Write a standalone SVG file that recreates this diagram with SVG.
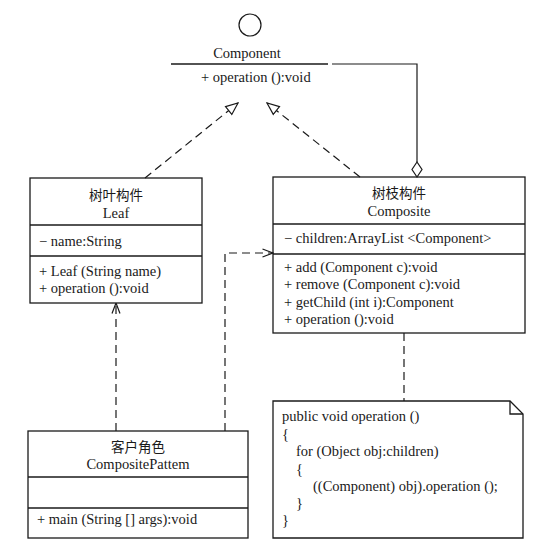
<svg xmlns="http://www.w3.org/2000/svg" width="541" height="550" viewBox="0 0 541 550">
  <style>
    text { font-family: "Liberation Serif", "Noto Sans CJK SC", serif; font-size: 14.5px; fill: #1a1a1a; }
    .cn { font-family: "Noto Sans CJK SC", "Liberation Serif", sans-serif; font-size: 13.5px; }
    .mid { text-anchor: middle; }
    .box { fill: #ffffff; stroke: #1a1a1a; stroke-width: 1.3; }
    .sep { stroke: #1a1a1a; stroke-width: 1.3; fill: none; }
    .solid { stroke: #1a1a1a; stroke-width: 1.2; fill: none; }
    .dash { stroke: #1a1a1a; stroke-width: 1.2; fill: none; stroke-dasharray: 8 5; }
  </style>
  <defs>
    <marker id="realize" viewBox="0 0 14 12" refX="13" refY="6" markerWidth="14" markerHeight="12" markerUnits="userSpaceOnUse" orient="auto">
      <path d="M1,1 L13,6 L1,11 Z" fill="#ffffff" stroke="#1a1a1a" stroke-width="1.2"/>
    </marker>
    <marker id="open" viewBox="0 0 12 10" refX="11.5" refY="5" markerWidth="12" markerHeight="10" markerUnits="userSpaceOnUse" orient="auto">
      <path d="M1,1 L11.5,5 L1,9" fill="none" stroke="#1a1a1a" stroke-width="1.2"/>
    </marker>
  </defs>

  <rect width="541" height="550" fill="#ffffff"/>

  <!-- Component interface (lollipop notation) -->
  <g id="component">
    <circle cx="250" cy="25" r="11" fill="#ffffff" stroke="#1a1a1a" stroke-width="1.2"/>
    <text x="247" y="58" class="mid">Component</text>
    <line x1="171" y1="64" x2="328" y2="64" class="sep"/>
    <text x="201" y="82">+ operation ():void</text>
  </g>

  <!-- Leaf -->
  <g id="leaf">
    <rect x="30" y="178" width="172" height="125" class="box"/>
    <line x1="30" y1="225" x2="202" y2="225" class="sep"/>
    <line x1="30" y1="256" x2="202" y2="256" class="sep"/>
    <text x="116" y="200" class="mid cn">树叶构件</text>
    <text x="116" y="218" class="mid">Leaf</text>
    <text x="39" y="246">− name:String</text>
    <text x="39" y="276">+ Leaf (String name)</text>
    <text x="39" y="293">+ operation ():void</text>
  </g>

  <!-- Composite -->
  <g id="composite">
    <rect x="273" y="177" width="252" height="156" class="box"/>
    <line x1="273" y1="224" x2="525" y2="224" class="sep"/>
    <line x1="273" y1="254" x2="525" y2="254" class="sep"/>
    <text x="399" y="198" class="mid cn">树枝构件</text>
    <text x="399" y="216" class="mid">Composite</text>
    <text x="284" y="243">− children:ArrayList &lt;Component&gt;</text>
    <text x="284" y="272">+ add (Component c):void</text>
    <text x="284" y="289">+ remove (Component c):void</text>
    <text x="284" y="307">+ getChild (int i):Component</text>
    <text x="284" y="324">+ operation ():void</text>
  </g>

  <!-- Client -->
  <g id="client">
    <rect x="28" y="431" width="220" height="107" class="box"/>
    <line x1="28" y1="477" x2="248" y2="477" class="sep"/>
    <line x1="28" y1="508" x2="248" y2="508" class="sep"/>
    <text x="138" y="452" class="mid cn">客户角色</text>
    <text x="138" y="469" class="mid">CompositePattem</text>
    <text x="37" y="524">+ main (String [] args):void</text>
  </g>

  <!-- Note attached to Composite.operation -->
  <g id="note">
    <path d="M273,401 H510 L523,414 V538 H273 Z" class="box"/>
    <path d="M510,401 V414 H523" class="sep"/>
    <text x="282" y="421">public void operation ()</text>
    <text x="282" y="439">{</text>
    <text x="296" y="456">for (Object obj:children)</text>
    <text x="296" y="474">{</text>
    <text x="313" y="491">((Component) obj).operation ();</text>
    <text x="296" y="508">}</text>
    <text x="282" y="525">}</text>
  </g>

  <!-- Connectors -->
  <g id="connectors">
    <line x1="145" y1="178" x2="238" y2="103" class="dash" marker-end="url(#realize)"/>
    <line x1="360" y1="177" x2="267" y2="103" class="dash" marker-end="url(#realize)"/>
    <polyline points="332,64 417,64 417,162" class="solid"/>
    <path d="M417,162 L412,169.5 L417,177 L422,169.5 Z" fill="#ffffff" stroke="#1a1a1a" stroke-width="1.2"/>
    <line x1="116" y1="431" x2="116" y2="303" class="dash" marker-end="url(#open)"/>
    <polyline points="225,431 225,253 273,253" class="dash" marker-end="url(#open)"/>
    <line x1="404" y1="333" x2="404" y2="401" class="dash"/>
  </g>
</svg>
